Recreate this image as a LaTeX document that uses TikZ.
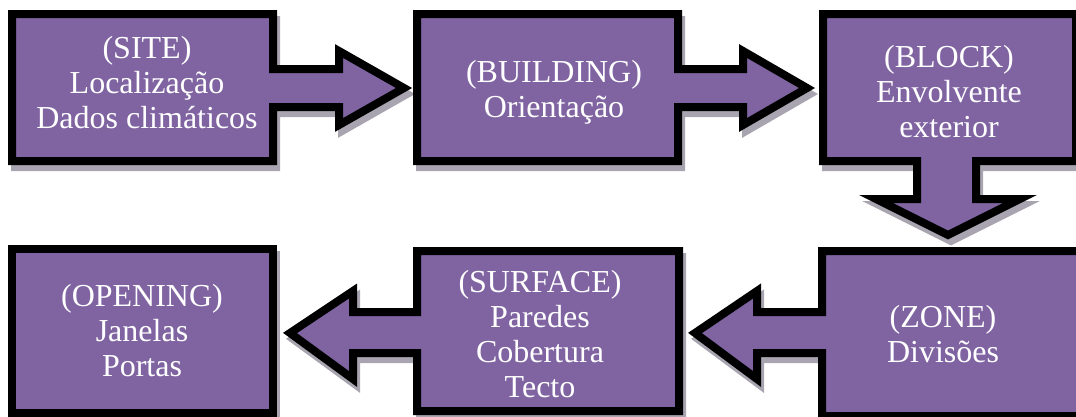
\documentclass[tikz,border=0pt]{standalone}
\usepackage{fontspec}
\setmainfont{Liberation Serif}
\definecolor{boxpurple}{RGB}{128,100,162}
\definecolor{shadowgray}{RGB}{168,164,176}
\begin{document}
\begin{tikzpicture}[x=1pt,y=-1pt,
  blockshape/.style={fill=boxpurple,draw=black,line width=8pt,line join=miter,miter limit=10},
  shadowshape/.style={fill=shadowgray,draw=shadowgray,line width=8pt,line join=miter,miter limit=10,shift={(3,6)}},
  boxtext/.style={text=white,font=\fontsize{32}{35}\selectfont,align=center,inner sep=0pt,anchor=base}]
\useasboundingbox (0,0) rectangle (1076,416);
\clip (0,0) rectangle (1076,416);
\foreach \s in {shadowshape,blockshape}{
  % SITE with arrow to BUILDING
  \draw[\s] (12,14) -- (273,14) -- (273,69) -- (339,69) -- (339,51) -- (404,88) -- (339,125) -- (339,107) -- (273,107) -- (273,161) -- (12,161) -- cycle;
  % BUILDING with arrow to BLOCK
  \draw[\s] (417,14) -- (678,14) -- (678,69) -- (743,69) -- (743,51) -- (807,88) -- (743,125) -- (743,107) -- (678,107) -- (678,161) -- (417,161) -- cycle;
  % BLOCK with arrow down to ZONE
  \draw[\s] (823,14) -- (1076,14) -- (1076,161) -- (976,161) -- (976,199) -- (1020,199) -- (948,235) -- (876,199) -- (917,199) -- (917,161) -- (823,161) -- cycle;
  % ZONE with arrow to SURFACE
  \draw[\s] (822,251) -- (1082,251) -- (1082,416) -- (822,416) -- (822,353) -- (757,353) -- (757,379) -- (695,333) -- (757,291) -- (757,312) -- (822,312) -- cycle;
  % SURFACE with arrow to OPENING
  \draw[\s] (417,251) -- (679,251) -- (679,411) -- (417,411) -- (417,353) -- (353,353) -- (353,379) -- (290,333) -- (353,291) -- (353,312) -- (417,312) -- cycle;
  % OPENING
  \draw[\s] (12,249) -- (273,249) -- (273,413) -- (12,413) -- cycle;
}
\node[boxtext] (site) at (147,128) {(SITE)\\Localização\\Dados climáticos};
\node[boxtext] (building) at (554,117) {(BUILDING)\\Orientação};
\node[boxtext] (block) at (949,137) {(BLOCK)\\Envolvente\\exterior};
\node[boxtext] (zone) at (943,362) {(ZONE)\\Divisões};
\node[boxtext] (surface) at (540,397) {(SURFACE)\\Paredes\\Cobertura\\Tecto};
\node[boxtext] (opening) at (142,376) {(OPENING)\\Janelas\\Portas};
\end{tikzpicture}
\end{document}
